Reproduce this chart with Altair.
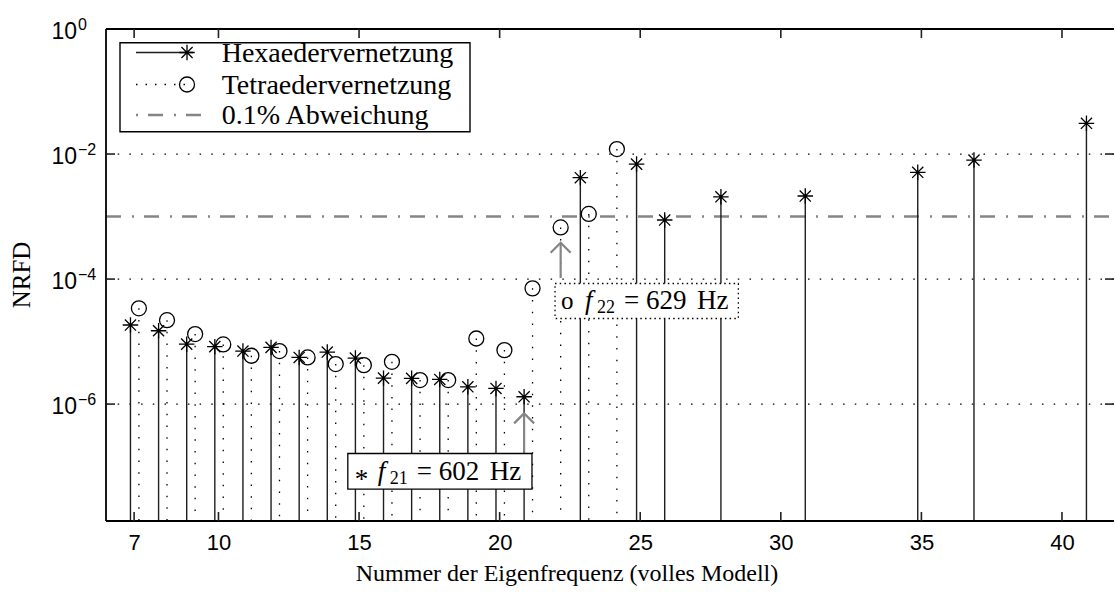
import altair as alt
import pandas as pd

# Normalised relative frequency difference (NRFD) per eigenfrequency number
hexa_mode = [7, 8, 9, 10, 11, 12, 13, 14, 15, 16, 17, 18, 19, 20, 21, 23, 25, 26, 28, 31, 35, 37, 41]
hexa_nrfd = [1.84e-5, 1.49e-5, 9.1e-6, 8.3e-6, 7.05e-6, 8.07e-6, 5.58e-6, 6.8e-6, 5.45e-6,
             2.6e-6, 2.58e-6, 2.48e-6, 1.89e-6, 1.78e-6, 1.31e-6,
             4.18e-3, 6.9e-3, 8.8e-4, 2.07e-3, 2.13e-3, 5.1e-3, 8.0e-3, 3.1e-2]
tetra_mode = [7, 8, 9, 10, 11, 12, 13, 14, 15, 16, 17, 18, 19, 20, 21, 22, 23, 24]
tetra_nrfd = [3.4e-5, 2.2e-5, 1.32e-5, 9.0e-6, 5.93e-6, 7.05e-6, 5.58e-6, 4.37e-6, 4.2e-6,
              4.75e-6, 2.42e-6, 2.42e-6, 1.12e-5, 7.3e-6, 7.1e-5, 6.7e-4, 1.1e-3, 1.2e-2]
threshold = [1e-3]

x_ticks = [7, 10, 15, 20, 25, 30, 35, 40]
y_grid = [1e-6, 1e-4, 1e-2]
y_label_vals = [1e0, 1e-2, 1e-4, 1e-6]
y_label_exp = ["0", "\u22122", "\u22124", "\u22126"]

legend_labels = ["Hexaedervernetzung", "Tetraedervernetzung", "0.1% Abweichung"]

# Annotations for the first mode of each mesh that leaves the flat region
ann_mesh = ["hexa", "tetra"]
ann_symbol = ["*", "o"]
ann_index = ["21", "22"]
ann_freq = ["602", "629"]
ann_arrow_tip = [7.1e-7, 3.8e-4]
ann_arrow_tail = [1.62e-7, 1.04e-4]
ann_box_x0 = [14.6, 21.97]
ann_box_x1 = [21.15, 28.49]
ann_box_lo = [4.37e-8, 2.34e-5]
ann_box_hi = [1.62e-7, 8.5e-5]

HEXA_SHIFT = -0.13
TETRA_SHIFT = 0.17
W, H = 1008, 492
SERIF = "Liberation Serif"
SANS = "Liberation Sans"
GRAY = "#858585"
STEM = "#1e1e1e"
DOT = [1.5, 10.2]
DASHDOT = [15, 11, 2, 10]
STAR = "M-1,0L1,0M0,-1L0,1M-0.72,-0.72L0.72,0.72M-0.72,0.72L0.72,-0.72"
CHEVRON = "M-1,1L0,0L1,1"

hexa = pd.DataFrame({"pos": [m + HEXA_SHIFT for m in hexa_mode], "nrfd": hexa_nrfd})
tetra = pd.DataFrame({"pos": [m + TETRA_SHIFT for m in tetra_mode], "nrfd": tetra_nrfd})
grid = pd.DataFrame({"v": y_grid})
thr = pd.DataFrame({"v": threshold})
xt = pd.DataFrame({"t": x_ticks})
ylab = pd.DataFrame({"v": y_label_vals, "exp": y_label_exp})
ann = pd.DataFrame({
    "mesh": ann_mesh, "sym": ann_symbol, "idx": ann_index, "freq": ann_freq,
    "ax": [21 + HEXA_SHIFT, 22 + TETRA_SHIFT],
    "tip": ann_arrow_tip, "tail": ann_arrow_tail,
    "x0": ann_box_x0, "x1": ann_box_x1, "lo": ann_box_lo, "hi": ann_box_hi,
})
one = pd.DataFrame({"k": [0]})

XS = alt.Scale(domain=[6, 41.85], nice=False, zero=False)
YS = alt.Scale(type="log", domain=[1.349e-8, 1], nice=False)
XAXIS = alt.Axis(values=x_ticks, labelFont=SANS, labelFontSize=22, labelColor="black",
                 ticks=False, domain=False, grid=False, title=None, labelPadding=11,
                 labelFlush=False, labelOverlap=False)


def X(f):
    return alt.X(f, type="quantitative", scale=XS, axis=XAXIS)


def Y(f):
    return alt.Y(f, type="quantitative", scale=YS, axis=None)


layers = []

# dotted grid at the labelled decades
layers.append(alt.Chart(grid).mark_rule(color="black", strokeWidth=1.2, strokeDash=DOT)
              .encode(y=Y("v"), x=alt.value(0), x2=alt.value(W)))
# 0.1 % threshold
layers.append(alt.Chart(thr).mark_rule(color=GRAY, strokeWidth=2.6, strokeDash=DASHDOT)
              .encode(y=Y("v"), x=alt.value(0), x2=alt.value(W)))
# stems
layers.append(alt.Chart(tetra).mark_rule(color="black", strokeWidth=1.3, strokeDash=DOT)
              .encode(x=X("pos"), y=Y("nrfd"), y2=alt.value(H)))
layers.append(alt.Chart(hexa).mark_rule(color=STEM, strokeWidth=1.4)
              .encode(x=X("pos"), y=Y("nrfd"), y2=alt.value(H)))
# markers
layers.append(alt.Chart(tetra).mark_point(shape="circle", size=225, filled=False, color="black",
                                          strokeWidth=1.3, opacity=1)
              .encode(x=X("pos"), y=Y("nrfd")))
layers.append(alt.Chart(hexa).mark_point(shape=STAR, size=240, filled=False, color="black",
                                         strokeWidth=1.3, opacity=1)
              .encode(x=X("pos"), y=Y("nrfd")))

# annotation arrows
layers.append(alt.Chart(ann).mark_rule(color=GRAY, strokeWidth=2.2)
              .encode(x=X("ax"), y=Y("tip"), y2=alt.Y2("tail")))
layers.append(alt.Chart(ann).mark_point(shape=CHEVRON, size=400, filled=False, color=GRAY,
                                        strokeWidth=2.2, opacity=1)
              .encode(x=X("ax"), y=Y("tip")))
# annotation boxes: solid for the hexahedral mode, dotted for the tetrahedral one
for mesh, dash in [("hexa", [1, 0]), ("tetra", [1.5, 3.2])]:
    layers.append(alt.Chart(ann).transform_filter(alt.datum.mesh == mesh)
                  .mark_rect(fill="white", stroke="black", strokeWidth=1.3, strokeDash=dash)
                  .encode(x=X("x0"), x2=alt.X2("x1"), y=Y("lo"), y2=alt.Y2("hi")))


def ann_text(text, dx, dy, size, style="normal", mesh=None):
    base = alt.Chart(ann)
    if mesh is not None:
        base = base.transform_filter(alt.datum.mesh == mesh)
    return (base.mark_text(font=SERIF, fontSize=size, fontStyle=style, align="left",
                           baseline="alphabetic", dx=dx, dy=dy, color="black")
            .encode(x=X("x0"), y=Y("lo"), text=text))


layers.append(ann_text("sym:N", 7, -1.5, 27, mesh="hexa"))
layers.append(ann_text("sym:N", 6, -9.5, 25, mesh="tetra"))
layers.append(ann_text(alt.value("f"), 30, -9.5, 27, style="italic"))
layers.append(ann_text("idx:N", 42, -5, 18))
layers.append(ann_text(alt.value("="), 69, -9.5, 27))
layers.append(ann_text("freq:N", 91, -9.5, 27))
layers.append(ann_text(alt.value("Hz"), 142, -9.5, 27))

# legend
LEG_Y = [23.5, 55.5, 86]
layers.append(alt.Chart(one).mark_rect(fill="white", stroke="black", strokeWidth=1.4)
              .encode(x=alt.value(14), x2=alt.value(364), y=alt.value(13.7), y2=alt.value(102.7)))
layers.append(alt.Chart(one).mark_rule(color=STEM, strokeWidth=1.4)
              .encode(x=alt.value(30), x2=alt.value(87), y=alt.value(LEG_Y[0])))
layers.append(alt.Chart(one).mark_point(shape=STAR, size=240, filled=False, color="black",
                                        strokeWidth=1.3, opacity=1)
              .encode(x=alt.value(81), y=alt.value(LEG_Y[0])))
layers.append(alt.Chart(one).mark_rule(color="black", strokeWidth=1.3, strokeDash=[1.5, 8])
              .encode(x=alt.value(30), x2=alt.value(87), y=alt.value(LEG_Y[1])))
layers.append(alt.Chart(one).mark_point(shape="circle", size=225, filled=False, color="black",
                                        strokeWidth=1.3, opacity=1)
              .encode(x=alt.value(81), y=alt.value(LEG_Y[1])))
layers.append(alt.Chart(one).mark_rule(color=GRAY, strokeWidth=2.6, strokeDash=[2, 10, 15, 11])
              .encode(x=alt.value(30), x2=alt.value(104), y=alt.value(LEG_Y[2])))
for label, ly in zip(legend_labels, LEG_Y):
    layers.append(alt.Chart(one).mark_text(font=SERIF, fontSize=28, align="left",
                                           baseline="middle", color="black")
                  .encode(x=alt.value(115.7), y=alt.value(ly + 1), text=alt.value(label)))

# frame (left, top, bottom) and inward tick marks
for enc in [dict(x=alt.value(0), y=alt.value(0), y2=alt.value(H)),
            dict(x=alt.value(0), x2=alt.value(W), y=alt.value(0)),
            dict(x=alt.value(0), x2=alt.value(W), y=alt.value(H))]:
    layers.append(alt.Chart(one).mark_rule(color="black", strokeWidth=1.8).encode(**enc))
layers.append(alt.Chart(xt).mark_rule(color="#222222", strokeWidth=1.6)
              .encode(x=X("t"), y=alt.value(H), y2=alt.value(H - 9)))
layers.append(alt.Chart(xt).mark_rule(color="#222222", strokeWidth=1.6)
              .encode(x=X("t"), y=alt.value(0), y2=alt.value(9)))
layers.append(alt.Chart(grid).mark_rule(color="#222222", strokeWidth=1.6)
              .encode(y=Y("v"), x=alt.value(0), x2=alt.value(9)))
layers.append(alt.Chart(grid).mark_rule(color="#222222", strokeWidth=1.6)
              .encode(y=Y("v"), x=alt.value(W - 9), x2=alt.value(W)))

# y tick labels as 10 with raised exponent
layers.append(alt.Chart(ylab).mark_text(font=SANS, fontSize=23, align="right",
                                        baseline="alphabetic", dy=9.5, color="black")
              .encode(x=alt.value(-29), y=Y("v"), text=alt.value("10")))
layers.append(alt.Chart(ylab).mark_text(font=SANS, fontSize=16, align="left",
                                        baseline="alphabetic", dy=0.5, color="black")
              .encode(x=alt.value(-28), y=Y("v"), text="exp:N"))

# axis titles
layers.append(alt.Chart(one).mark_text(font=SERIF, fontSize=25, angle=270, align="center",
                                       baseline="middle", color="black")
              .encode(x=alt.value(-84), y=alt.value(H / 2), text=alt.value("NRFD")))
layers.append(alt.Chart(one).mark_text(font=SERIF, fontSize=24, align="center",
                                       baseline="alphabetic", color="black")
              .encode(x=alt.value(461), y=alt.value(552),
                      text=alt.value("Nummer der Eigenfrequenz (volles Modell)")))

chart = (alt.layer(*layers)
         .properties(width=W, height=H,
                     autosize=alt.AutoSizeParams(type="none"),
                     padding={"left": 106, "top": 29, "right": 1, "bottom": 71},
                     background="white")
         .configure_view(stroke=None))

chart.save("out.html", embed_options={"renderer": "svg", "actions": False})
